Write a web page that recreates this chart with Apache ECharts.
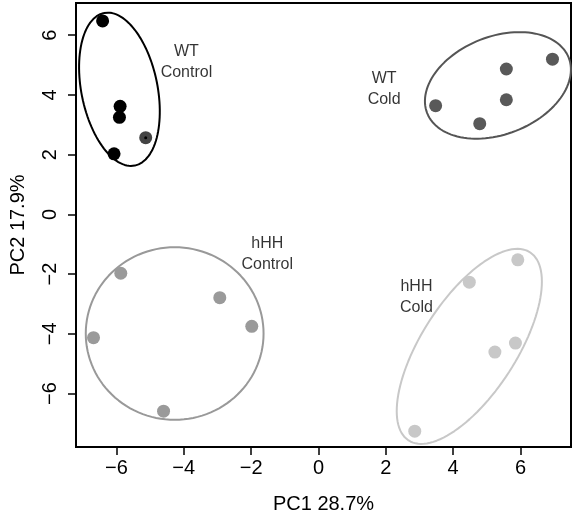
<!DOCTYPE html>
<html>
<head>
<meta charset="utf-8">
<script src="https://cdn.jsdelivr.net/npm/echarts@6/dist/echarts.min.js"></script>
<style>
  html, body { margin: 0; padding: 0; background: #fff; }
  #chart { width: 573px; height: 519px; }
</style>
</head>
<body>
<div id="chart"></div>
<script>
// PCA scores, [PC1, PC2]
const wtControl = [[-6.41, 6.48], [-5.89, 3.62], [-5.91, 3.25], [-6.07, 2.03]];
const wtControlOdd = [[-5.13, 2.57]];
const wtCold = [[3.48, 3.64], [4.79, 3.04], [5.58, 4.87], [5.58, 3.84], [6.95, 5.20]];
const hhhControl = [[-5.87, -1.97], [-2.93, -2.79], [-1.98, -3.75], [-6.68, -4.13], [-4.60, -6.59]];
const hhhCold = [[5.92, -1.52], [4.48, -2.27], [5.85, -4.31], [5.24, -4.61], [2.86, -7.26]];

// ellipses: centre, then two conjugate semi-axis vectors (data units)
const ellipseWtControl = [[-5.91, 4.19], [-0.457, 2.555], [1.108, 0.252]];
const ellipseWtCold = [[5.33, 4.32], [2.102, 0.928], [0.530, -1.524]];
const ellipseHhhControl = [[-4.27, -3.99], [2.64, 0], [0, 2.89]];
const ellipseHhhCold = [[4.48, -4.42], [1.803, 3.152], [1.181, -0.858]];

// group labels
const groupLabels = [
    { value: [-3.92, 5.11], text: 'WT\nControl' },
    { value: [1.95, 4.18], text: 'WT\nCold' },
    { value: [-1.52, -1.34], text: 'hHH\nControl' },
    { value: [2.91, -2.76], text: 'hHH\nCold' }
];

const xTicks = [-6, -4, -2, 0, 2, 4, 6];
const yTicks = [-6, -4, -2, 0, 2, 4, 6];

const FONT = '"Liberation Sans", Arial, Helvetica, sans-serif';

function ellipsePath(e) {
    const pts = [];
    const n = 120;
    for (let i = 0; i <= n; i++) {
        const t = (i / n) * Math.PI * 2;
        pts.push([
            e[0][0] + e[1][0] * Math.cos(t) + e[2][0] * Math.sin(t),
            e[0][1] + e[1][1] * Math.cos(t) + e[2][1] * Math.sin(t)
        ]);
    }
    return pts;
}

function ellipseSeries(e, color) {
    return {
        type: 'line',
        data: ellipsePath(e),
        showSymbol: false,
        symbol: 'none',
        silent: true,
        lineStyle: { color: color, width: 2 },
        z: 1
    };
}

function pointSeries(data, color, size) {
    return {
        type: 'scatter',
        data: data,
        symbolSize: size || 13,
        itemStyle: { color: color, opacity: 1 },
        z: 3
    };
}

const chart = echarts.init(document.getElementById('chart'));

chart.setOption({
    backgroundColor: '#fff',
    animation: false,
    grid: {
        left: 74,
        right: 2,
        top: 3,
        bottom: 70,
        show: true,
        borderColor: '#000',
        borderWidth: 2,
        backgroundColor: 'transparent'
    },
    xAxis: {
        type: 'value',
        min: -7.2,
        max: 7.5,
        name: 'PC1 28.7%',
        nameLocation: 'middle',
        nameGap: 47,
        nameTextStyle: { color: '#000', fontSize: 20, fontFamily: FONT },
        axisLine: { show: false, onZero: false },
        axisTick: {
            show: true, inside: false, length: 8,
            customValues: xTicks,
            lineStyle: { color: '#000', width: 1.5 }
        },
        axisLabel: {
            customValues: xTicks,
            margin: 11,
            color: '#000',
            fontSize: 20,
            fontFamily: FONT,
            formatter: v => String(v).replace('-', '\u2212')
        },
        splitLine: { show: false }
    },
    yAxis: {
        type: 'value',
        min: -7.79,
        max: 7.08,
        name: 'PC2 17.9%',
        nameLocation: 'middle',
        nameGap: 48,
        nameTextStyle: { color: '#000', fontSize: 20, fontFamily: FONT },
        axisLine: { show: false, onZero: false },
        axisTick: {
            show: true, inside: false, length: 8,
            customValues: yTicks,
            lineStyle: { color: '#000', width: 1.5 }
        },
        axisLabel: {
            customValues: yTicks,
            rotate: 90,
            margin: 16,
            color: '#000',
            fontSize: 20,
            fontFamily: FONT,
            formatter: v => String(v).replace('-', '\u2212')
        },
        splitLine: { show: false }
    },
    series: [
        ellipseSeries(ellipseWtControl, '#000'),
        ellipseSeries(ellipseWtCold, '#555'),
        ellipseSeries(ellipseHhhControl, '#999'),
        ellipseSeries(ellipseHhhCold, '#c8c8c8'),
        pointSeries(wtControl, '#000'),
        pointSeries(wtControlOdd, '#444'),
        pointSeries(wtControlOdd, '#000', 3),
        pointSeries(wtCold, '#595959'),
        pointSeries(hhhControl, '#9a9a9a'),
        pointSeries(hhhCold, '#c8c8c8'),
        {
            type: 'scatter',
            data: groupLabels.map(d => ({ value: d.value, name: d.text })),
            symbolSize: 0,
            silent: true,
            label: {
                show: true,
                position: 'inside',
                formatter: p => p.name,
                color: '#000',
                fontSize: 16,
                lineHeight: 21,
                fontFamily: FONT,
                align: 'center'
            },
            z: 4
        }
    ]
});
</script>
</body>
</html>
